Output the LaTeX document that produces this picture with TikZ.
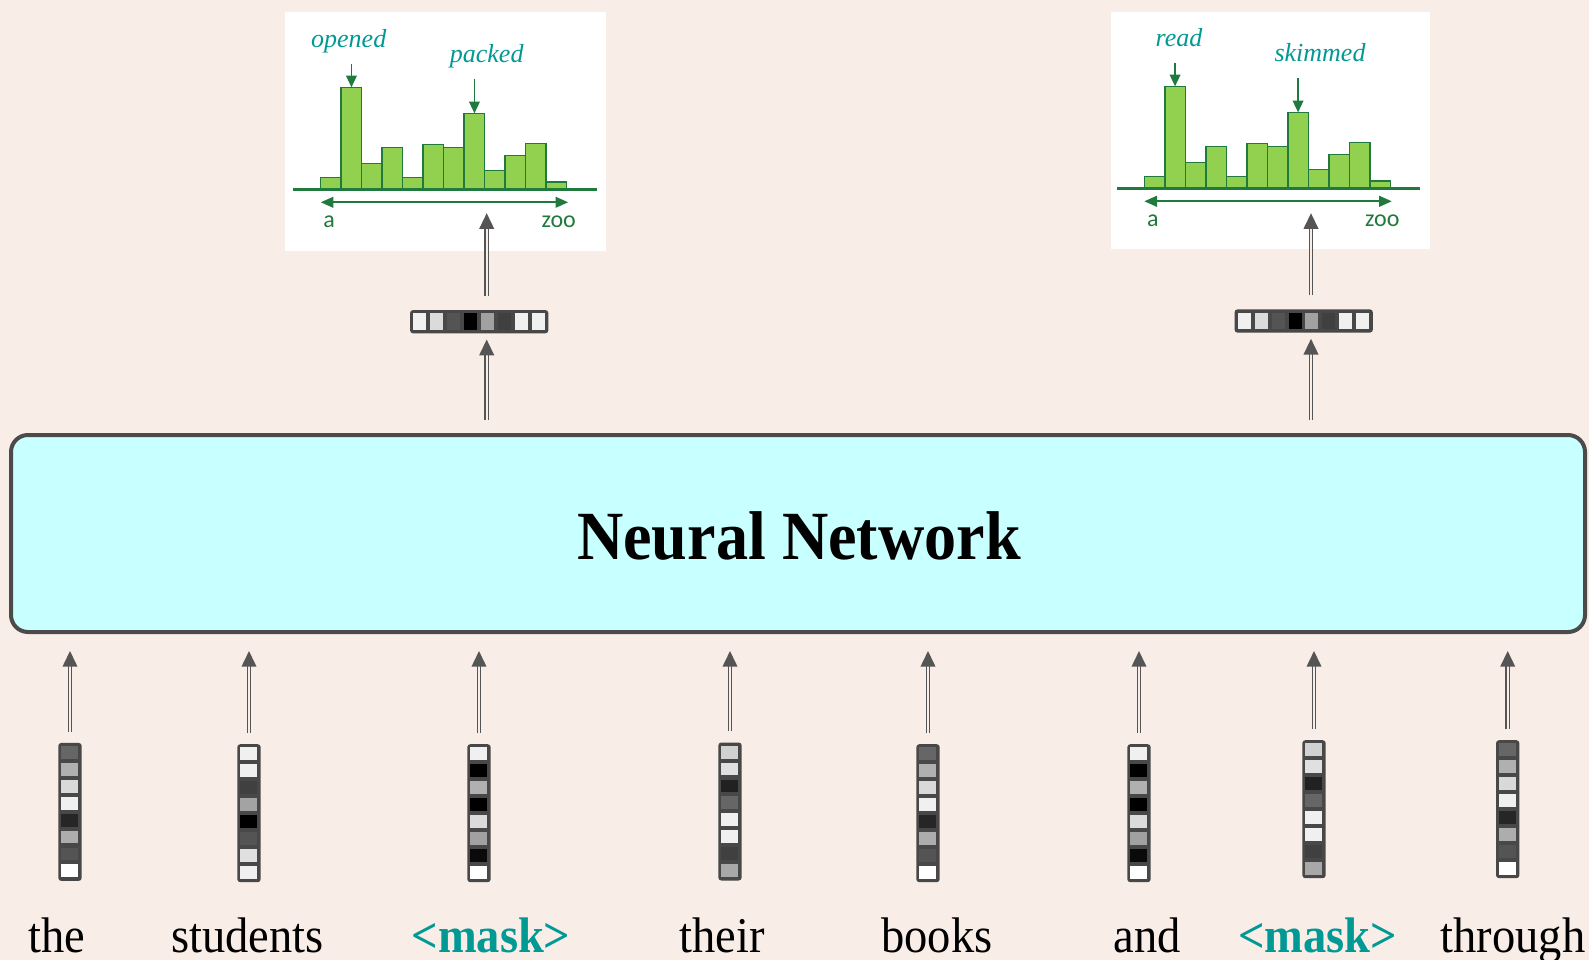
\documentclass[tikz,border=0pt]{standalone}
\usepackage{fontspec}
\setmainfont{Liberation Serif}
\newfontfamily\wordfont[FakeStretch=0.93]{Liberation Serif}
\newfontfamily\axisfont{Carlito}
\usetikzlibrary{arrows.meta,calc}

\definecolor{paper}{RGB}{249,237,232}
\definecolor{nnfill}{RGB}{200,255,255}
\definecolor{nnline}{RGB}{75,75,75}
\definecolor{vecgray}{RGB}{72,72,72}
\definecolor{arrowgray}{RGB}{85,85,85}
\definecolor{bargreen}{RGB}{146,208,80}
\definecolor{histdark}{RGB}{32,122,62}
\definecolor{tealword}{RGB}{0,153,148}

% one horizontal output vector: name, centre x, centre y
\newcommand\hvec[3]{%
  \node[vech] (#1) at (#2,#3) {};
  \foreach \c [count=\i from 0] in {6,14,67,100,37,75,6,6}
    \fill[black!\c] ($(#1.north west)+(3.5+\i*16.9,3.5)$) rectangle +(13,16.3);
}
% one vertical input vector: name, centre x, top y, cell shades
\newcommand\vvec[4]{%
  \node[vecv, anchor=north] (#1) at (#2,#3) {};
  \foreach \c [count=\i from 0] in {#4}
    \fill[black!\c] ($(#1.north west)+(3.3,3.4+\i*16.9)$) rectangle +(16.8,12.8);
}
% one distribution chart: prefix, origin x, origin y (left end of bars on the axis),
% first label, its x, second label, its x
\newcommand\histo[7]{%
  \begin{scope}[shift={(#2,#3)}]
    \foreach \h [count=\i from 0] in {12,102,26,42,12,45,42,76,19,34,46,7.5}
      \draw[bar] (\i*20.5,0) rectangle (\i*20.5+20.5,-\h);
    \draw[histaxis] (-27.7,0) -- (276,0);
    \draw[histrange] (0,13) -- (247.5,13);
    \node[axislbl] (#1a) at (8.5,32) {a};
    \node[axislbl] (#1z) at (238,32) {zoo};
    \node[guesslbl] (#1g1) at (#5,-142) {#4};
    \node[guesslbl] (#1g2) at (#7,-126.5) {#6};
    \draw[pointer] (30.75,-125.3) -- (30.75,-102);
    \draw[pointer] (153.75,-110.3) -- (153.75,-76);
  \end{scope}}

\begin{document}
\begin{tikzpicture}[x=1pt,y=-1pt,
  nnbox/.style={draw=nnline, fill=nnfill, line width=4, rounded corners=17,
    minimum width=1574, minimum height=197, inner sep=0},
  nnlabel/.style={font=\wordfont\bfseries\fontsize{69}{80}\selectfont, anchor=base, inner sep=0},
  word/.style={font=\wordfont\fontsize{50}{60}\selectfont, anchor=base, inner sep=0},
  maskword/.style={word, font=\wordfont\bfseries\fontsize{50}{60}\selectfont, text=tealword},
  vecv/.style={fill=vecgray, rounded corners=3, minimum width=23.4, minimum height=138, inner sep=0},
  vech/.style={fill=vecgray, rounded corners=3, minimum width=138.3, minimum height=23.3, inner sep=0},
  histbox/.style={fill=white, inner sep=0},
  bar/.style={draw=histdark, fill=bargreen, line width=1.5},
  histaxis/.style={draw=histdark, line width=3},
  histrange/.style={draw=histdark, line width=2,
    {Triangle[width=10.7,length=12.7]}-{Triangle[width=10.7,length=12.7]}},
  pointer/.style={draw=histdark, line width=1.5, -{Triangle[width=10.7,length=11.7]}},
  axislbl/.style={font=\axisfont\fontsize{24}{28}\selectfont, text=histdark, inner sep=0},
  guesslbl/.style={font=\itshape\fontsize{26}{30}\selectfont, text=tealword, anchor=base, inner sep=0},
  uparrow/.style={draw=arrowgray, line width=1.6, double=paper, double distance=1.7,
    -{Triangle[width=14.7,length=15.7]}}
]
\fill[paper] (0,0) rectangle (1589,960);
\useasboundingbox (0,0) rectangle (1589,960);

% the network
\node[nnbox] (nn) at (798,533.5) {};
\node[nnlabel] (nntext) at (799,559.4) {Neural Network};

% output distributions
\node[histbox, minimum width=321, minimum height=239] (p1) at (445.5,131.5) {};
\node[histbox, minimum width=319, minimum height=237] (p2) at (1270.5,130.5) {};
\histo{pa}{320.7}{189.3}{opened}{28}{packed}{166}
\histo{pb}{1144.3}{188.3}{read}{34.7}{skimmed}{175.7}

% output vectors
\hvec{h1}{479.2}{321.7}
\hvec{h2}{1303.7}{321}

\draw[uparrow] ([xshift=7.5,yshift=13]nn.north -| h1) -- ([xshift=7.5,yshift=-6]h1.south);
\draw[uparrow] ([xshift=7.5,yshift=14]h1.north) -- ([xshift=7.5,yshift=38]p1.south -| h1);
\draw[uparrow] ([xshift=7.3,yshift=13]nn.north -| h2) -- ([xshift=7.3,yshift=-6]h2.south);
\draw[uparrow] ([xshift=7.3,yshift=14]h2.north) -- ([xshift=7.3,yshift=36]p2.south -| h2);

% input vectors
\vvec{v1}{70}{742.7}{60,31,15,6,85,32,67,0}
\vvec{v2}{249}{744}{6,6,75,36,100,67,12,6}
\vvec{v3}{479}{744}{6,100,31,100,14,37,96,0}
\vvec{v4}{730}{742.3}{18,12,87,60,6,6,75,34}
\vvec{v5}{928}{744}{60,31,15,6,85,32,67,0}
\vvec{v6}{1139}{744}{6,100,31,100,14,37,96,0}
\vvec{v7}{1314}{740}{18,12,87,60,6,6,75,34}
\vvec{v8}{1507.7}{740}{60,31,15,6,85,32,67,0}

\foreach \v in {v1,v2,v3,v4,v5,v6,v7,v8}
  \draw[uparrow] ([yshift=11]\v.north) -- ([yshift=-17]\v.north |- nn.south);

% input words
\node[word] (w1) at (57,952.6) {the};
\node[word] (w2) at (247.5,952.6) {students};
\node[maskword] (w3) at (491,952.6) {<mask>};
\node[word] (w4) at (722,952.6) {their};
\node[word] (w5) at (937,952.6) {books};
\node[word] (w6) at (1147.5,952.6) {and};
\node[maskword] (w7) at (1317.6,952.6) {<mask>};
\node[word] (w8) at (1513,952.6) {through};
\end{tikzpicture}
\end{document}
